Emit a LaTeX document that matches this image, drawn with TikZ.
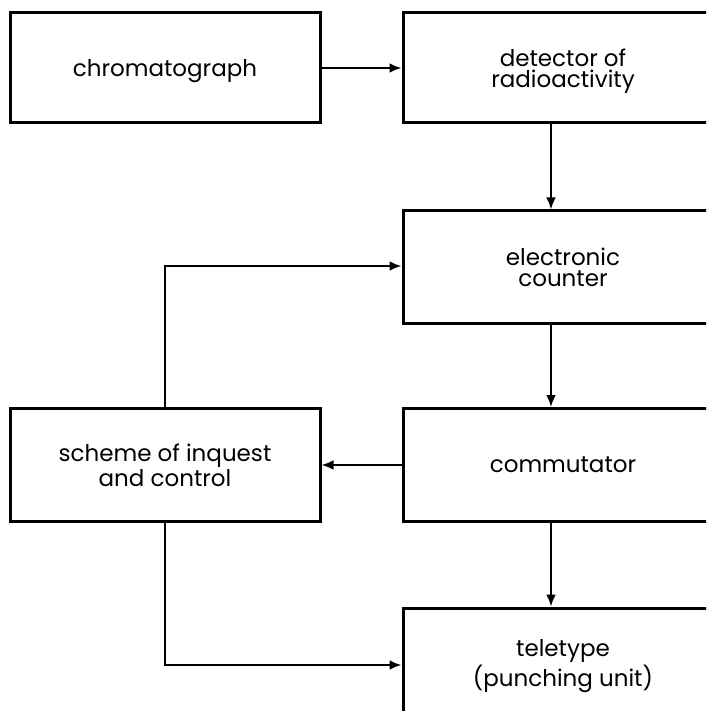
\documentclass[tikz,border=0pt]{standalone}
\usepackage{fontspec}
\setmainfont{Poppins}
\usepackage{tikz}
\usetikzlibrary{arrows.meta}

\tikzset{
  blok/.style={draw,line width=1.5pt,inner sep=0pt,align=center,
    font=\fontsize{11.5}{10.5}\selectfont,text depth=0pt},
  pijl/.style={line width=1.3pt,-{Latex[length=6pt,width=5pt]}}
}

\begin{document}
\begin{tikzpicture}[x=0.5pt,y=-0.5pt]
      \clip (0,0) rectangle (706,711);
      \useasboundingbox (0,0) rectangle (706,711);
      \node[blok,minimum width=155pt,minimum height=55pt] (chrom) at (165,68) {chromatograph};
      \node[blok,minimum width=160pt,minimum height=55pt] (detect) at (563,68) {detector of\\radioactivity};
      \node[blok,minimum width=160pt,minimum height=56pt] (counter) at (563,267) {electronic\\counter};
      \node[blok,minimum width=160pt,minimum height=56.5pt] (commut) at (563,465) {commutator};
      \node[blok,minimum width=155pt,minimum height=56.5pt] (scheme) at (165,465) {scheme of inquest\\and control};
      \node[blok,minimum width=160pt,minimum height=55pt] (tele) at (563,663) {teletype\\(punching unit)};
      \coordinate (up) at (165,266);
      \coordinate (down) at (165,665);
      \draw[pijl] (chrom.east) -- (detect.west);
      \draw[pijl] ([xshift=-6pt]detect.south) -- ([xshift=-6pt]counter.north);
      \draw[pijl] ([xshift=-6pt]counter.south) -- ([xshift=-6pt]commut.north);
      \draw[pijl] ([xshift=-6pt]commut.south) -- ([xshift=-6pt]tele.north);
      \draw[pijl] (commut.west) -- (scheme.east);
      \draw[pijl] (scheme.north) -- (up) -- (counter.west |- up);
      \draw[pijl] (scheme.south) -- (down) -- (tele.west |- down);
    \end{tikzpicture}
\end{document}
